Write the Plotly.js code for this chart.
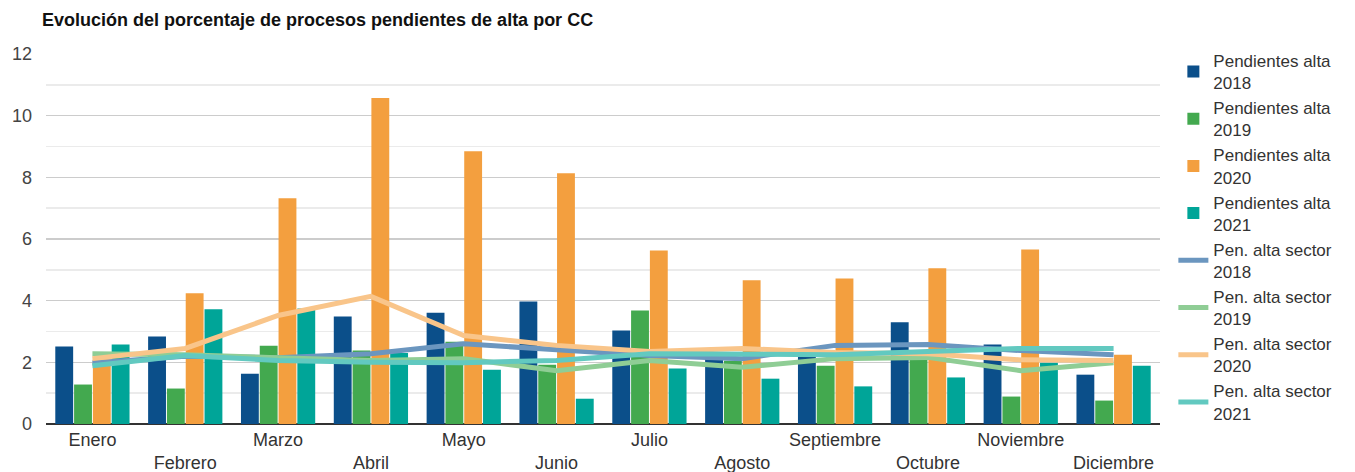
<!DOCTYPE html>
<html>
<head>
<meta charset="utf-8">
<script src="https://cdn.plot.ly/plotly-3.0.1.min.js"></script>
<style>html,body{margin:0;padding:0;background:#fff;}#chart{width:1355px;height:472px;}</style>
</head>
<body>
<div id="chart"></div>
<script>
const months = ["Enero","Febrero","Marzo","Abril","Mayo","Junio","Julio","Agosto","Septiembre","Octubre","Noviembre","Diciembre"];

const pend2018 = [2.51, 2.84, 1.63, 3.49, 3.61, 3.97, 3.03, 2.16, 2.28, 3.30, 2.58, 1.60];
const pend2019 = [1.28, 1.15, 2.54, 2.38, 2.67, 1.92, 3.68, 2.05, 1.89, 2.20, 0.89, 0.76];
const pend2020 = [2.10, 4.24, 7.32, 10.57, 8.85, 8.13, 5.63, 4.66, 4.72, 5.05, 5.66, 2.25];
const pend2021 = [2.58, 3.72, 3.75, 2.30, 1.76, 0.82, 1.80, 1.47, 1.22, 1.51, 1.99, 1.89];

const sector2018 = [1.98, 2.20, 2.15, 2.28, 2.60, 2.40, 2.22, 2.12, 2.55, 2.58, 2.38, 2.25];
const sector2019 = [2.28, 2.25, 2.15, 2.06, 2.12, 1.73, 2.06, 1.84, 2.12, 2.16, 1.73, 1.99];
const sector2020 = [2.12, 2.45, 3.52, 4.14, 2.87, 2.55, 2.35, 2.45, 2.32, 2.28, 2.08, 2.06];
const sector2021 = [1.89, 2.22, 2.06, 2.00, 1.99, 2.06, 2.28, 2.28, 2.25, 2.35, 2.45, 2.45];

const barNames = ["Pendientes alta<br>2018","Pendientes alta<br>2019","Pendientes alta<br>2020","Pendientes alta<br>2021"];
const lineNames = ["Pen. alta sector<br>2018","Pen. alta sector<br>2019","Pen. alta sector<br>2020","Pen. alta sector<br>2021"];
const barColors = ["#0b4f8a","#43a94f","#f39f3f","#00a598"];
const lineColors = ["#6b96bf","#8fcd95","#f9c58a","#62c9c0"];

const barData = [pend2018, pend2019, pend2020, pend2021];
const lineData = [sector2018, sector2019, sector2020, sector2021];

const traces = [];
barData.forEach((d, i) => traces.push({
  type: "bar", x: months, y: d, name: barNames[i],
  marker: {color: barColors[i], line: {width: 0}},
  hoverinfo: "y+name"
}));
lineData.forEach((d, i) => traces.push({
  type: "scatter", mode: "lines", x: months, y: d, name: lineNames[i],
  line: {color: lineColors[i], width: 5},
  hoverinfo: "y+name"
}));

const tickText = months.map((m, i) => i % 2 === 1 ? "&nbsp;<br>" + m : m);

const layout = {
  width: 1355, height: 472,
  margin: {l: 46, r: 195, t: 54, b: 48},
  paper_bgcolor: "#fff", plot_bgcolor: "#fff",
  font: {family: "Liberation Sans, Arial, sans-serif", size: 18, color: "#333"},
  title: {text: "<b>Evolución del porcentaje de procesos pendientes de alta por CC</b>",
          x: 0, xref: "paper", xanchor: "left", y: 0.972, yref: "container", yanchor: "top",
          pad: {l: -4},
          font: {size: 18, color: "#111"}},
  barmode: "group", bargap: 0.19, bargroupgap: 0.05,
  xaxis: {
    type: "category", tickvals: months, ticktext: tickText,
    showgrid: false, ticks: "", showline: false, zeroline: false,
    tickfont: {size: 18, color: "#333"}, ticklabelstandoff: 3, fixedrange: true
  },
  yaxis: {
    range: [0, 12], dtick: 2, tick0: 0,
    showgrid: true, gridcolor: "#cccccc", gridwidth: 1.5,
    minor: {dtick: 1, showgrid: true, gridcolor: "#ebebeb", gridwidth: 1.5},
    zeroline: true, zerolinecolor: "#333", zerolinewidth: 2.5,
    ticks: "", tickfont: {size: 18, color: "#444"}, ticklen: 0,
    ticklabelstandoff: 13,
    automargin: false, fixedrange: true
  },
  legend: {
    x: 1.012, xanchor: "left", y: 1.03, yanchor: "top",
    font: {size: 17, color: "#333"}, traceorder: "normal",
    itemwidth: 30, tracegroupgap: 0, bgcolor: "rgba(0,0,0,0)",
    maxheight: 472
  },
  showlegend: true
};

Plotly.newPlot("chart", traces, layout, {displayModeBar: false, staticPlot: true});
</script>
</body>
</html>
